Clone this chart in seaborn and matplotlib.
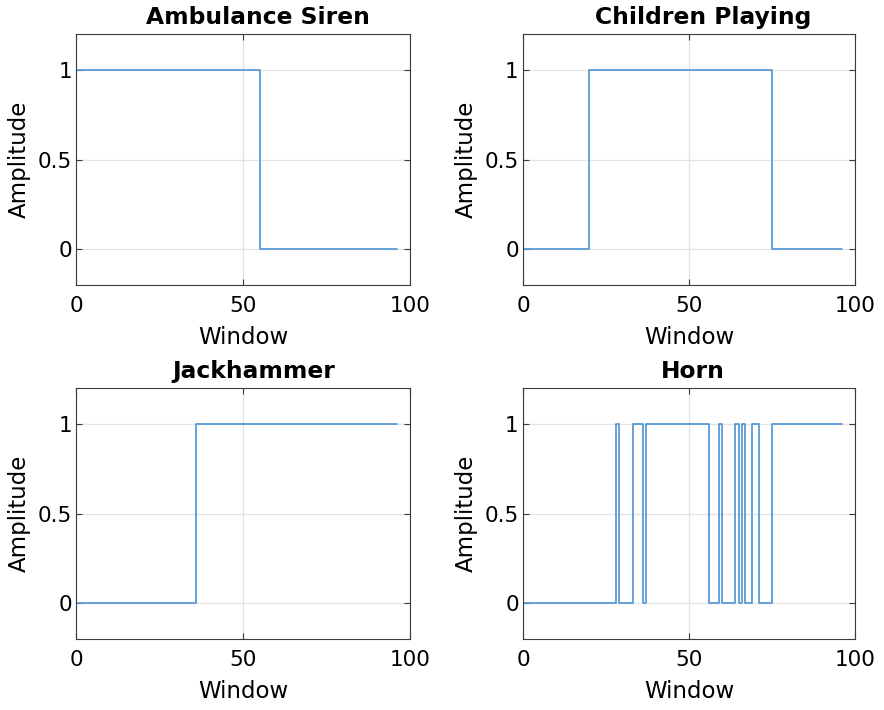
import numpy as np
import matplotlib
matplotlib.use("Agg")
import matplotlib.pyplot as plt
import seaborn as sns

sns.set_theme(style="white")
plt.rcParams['font.family'] = ['DejaVu Sans']
plt.rcParams['text.color'] = 'black'
plt.rcParams['axes.labelcolor'] = 'black'
plt.rcParams['xtick.color'] = 'black'
plt.rcParams['ytick.color'] = 'black'

titles = ["Ambulance Siren", "Children Playing", "Jackhammer", "Horn"]
last_window = 96

# starting level and the windows where the detection output toggles
siren_start, siren_switch = 1, [55]
children_start, children_switch = 0, [20, 75]
jackhammer_start, jackhammer_switch = 0, [36]
horn_start, horn_switch = 0, [28, 29, 33, 36, 37, 56, 59, 60, 64, 65,
                               66, 67, 69, 71, 75]

series = [(siren_start, siren_switch), (children_start, children_switch),
          (jackhammer_start, jackhammer_switch), (horn_start, horn_switch)]

fig = plt.figure(figsize=(8.84, 7.10), dpi=100)
positions = [(0.086, 0.5986, 0.378, 0.3535), (0.5916, 0.5986, 0.3756, 0.3535),
             (0.086, 0.100, 0.378, 0.3535), (0.5916, 0.100, 0.3756, 0.3535)]

line_color = "#5a9bd5"
title_kw = dict(fontsize=16.8, fontweight="bold", pad=7)
axes = []
for pos, title, (start, switches) in zip(positions, titles, series):
    ax = fig.add_axes(pos)
    edges = [0] + list(switches) + [last_window]
    levels = [(start + i) % 2 for i in range(len(switches) + 1)]
    levels = levels + [levels[-1]]
    sns.lineplot(x=edges, y=levels, ax=ax, drawstyle="steps-post",
                 color=line_color, linewidth=1.3, estimator=None, sort=False)
    ax.set_xlim(0, 100)
    ax.set_ylim(-0.2, 1.2)
    ax.set_xticks([0, 50, 100])
    ax.set_xticklabels(["0", "50", "100"])
    ax.set_yticks([0, 0.5, 1])
    ax.set_yticklabels(["0", "0.5", "1"])
    ax.grid(True, color="#e3e3e3", linewidth=0.9)
    ax.set_axisbelow(True)
    for sp in ax.spines.values():
        sp.set_color("#3a3a3a")
        sp.set_linewidth(0.8)
    ax.tick_params(direction="in", length=4, width=0.8, color="#3a3a3a",
                   top=True, right=True, bottom=True, left=True,
                   labelsize=15.5)
    ax.tick_params(axis="x", pad=8)
    ax.tick_params(axis="y", pad=3)
    ax.set_xlabel("Window", fontsize=16.5, labelpad=7)
    ax.set_ylabel("Amplitude", fontsize=16.5, labelpad=5)
    ax.set_title(title, y=1.0, **title_kw)
    axes.append(ax)

# titles sit slightly right of centre, by an amount growing with their width
fig.canvas.draw()
renderer = fig.canvas.get_renderer()
for ax, title in zip(axes, titles):
    w_px = ax.title.get_window_extent(renderer).width
    ax_w_px = ax.get_window_extent(renderer).width
    ax.set_title(title, x=0.5 + 0.067 * w_px / ax_w_px, y=1.0, **title_kw)

fig.savefig("out.png", dpi=100)
